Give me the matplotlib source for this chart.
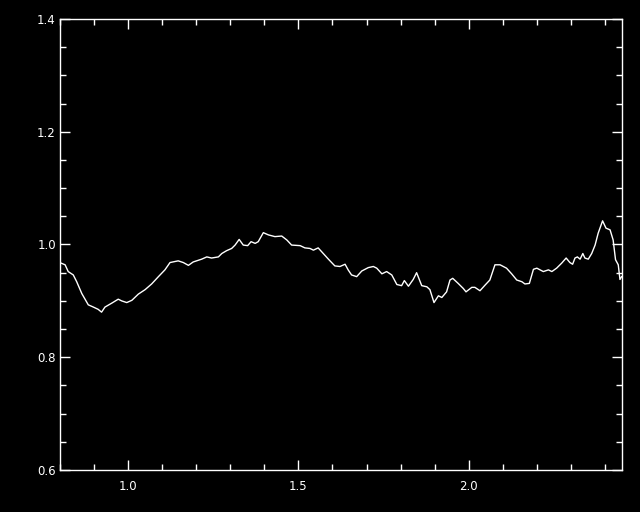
import numpy as np
import matplotlib
matplotlib.use("Agg")
import matplotlib.pyplot as plt
from matplotlib.ticker import MultipleLocator, FormatStrFormatter

# wavelength and normalised flux
wave = [0.803, 0.815, 0.824, 0.839, 0.849, 0.864, 0.883, 0.898, 0.912, 0.922,
        0.932, 0.952, 0.971, 0.981, 0.996, 1.011, 1.030, 1.050, 1.069, 1.089,
        1.108, 1.123, 1.147, 1.162, 1.177, 1.191, 1.216, 1.231, 1.245, 1.265,
        1.275, 1.289, 1.304, 1.314, 1.326, 1.338, 1.351, 1.361, 1.373, 1.382,
        1.397, 1.412, 1.431, 1.451, 1.466, 1.480, 1.505, 1.519, 1.534, 1.544,
        1.558, 1.573, 1.588, 1.607, 1.622, 1.637, 1.646, 1.656, 1.671, 1.686,
        1.705, 1.720, 1.730, 1.745, 1.759, 1.774, 1.789, 1.803, 1.811, 1.823,
        1.837, 1.847, 1.862, 1.877, 1.886, 1.898, 1.911, 1.921, 1.935, 1.945,
        1.953, 1.969, 1.984, 1.992, 2.009, 2.018, 2.033, 2.048, 2.062, 2.077,
        2.092, 2.111, 2.126, 2.141, 2.156, 2.165, 2.178, 2.190, 2.200, 2.219,
        2.234, 2.244, 2.258, 2.273, 2.286, 2.297, 2.305, 2.312, 2.319, 2.327,
        2.335, 2.341, 2.351, 2.361, 2.371, 2.380, 2.393, 2.403, 2.415, 2.424,
        2.431, 2.439, 2.444, 2.449]
flux = [0.967, 0.964, 0.952, 0.946, 0.934, 0.913, 0.893, 0.889, 0.885, 0.880,
        0.889, 0.896, 0.903, 0.900, 0.897, 0.901, 0.912, 0.920, 0.930, 0.943,
        0.955, 0.968, 0.971, 0.968, 0.963, 0.969, 0.974, 0.978, 0.976, 0.978,
        0.984, 0.989, 0.993, 0.999, 1.009, 0.999, 0.998, 1.005, 1.002, 1.005,
        1.021, 1.017, 1.014, 1.015, 1.008, 0.999, 0.998, 0.994, 0.993, 0.990,
        0.994, 0.984, 0.974, 0.962, 0.961, 0.965, 0.955, 0.946, 0.943, 0.953,
        0.959, 0.961, 0.958, 0.948, 0.952, 0.946, 0.929, 0.927, 0.936, 0.926,
        0.938, 0.950, 0.927, 0.925, 0.920, 0.897, 0.909, 0.906, 0.916, 0.937,
        0.940, 0.931, 0.922, 0.916, 0.924, 0.924, 0.918, 0.928, 0.937, 0.964,
        0.964, 0.958, 0.948, 0.937, 0.934, 0.930, 0.931, 0.956, 0.958, 0.952,
        0.955, 0.952, 0.958, 0.967, 0.976, 0.968, 0.965, 0.976, 0.978, 0.974,
        0.984, 0.976, 0.974, 0.984, 0.999, 1.020, 1.042, 1.029, 1.026, 1.008,
        0.973, 0.964, 0.938, 0.943]

fig = plt.figure(figsize=(6.4, 5.12), dpi=100, facecolor="black")
ax = fig.add_axes([60 / 640, 42 / 512, 562 / 640, 451 / 512], facecolor="black")

ax.plot(wave, flux, color="white", linewidth=1.0)

ax.set_xlim(0.8, 2.45)
ax.set_ylim(0.6, 1.4)
ax.xaxis.set_major_locator(MultipleLocator(0.5))
ax.xaxis.set_minor_locator(MultipleLocator(0.1))
ax.yaxis.set_major_locator(MultipleLocator(0.2))
ax.yaxis.set_minor_locator(MultipleLocator(0.05))
ax.xaxis.set_major_formatter(FormatStrFormatter("%.1f"))
ax.yaxis.set_major_formatter(FormatStrFormatter("%.1f"))

for s in ax.spines.values():
    s.set_color("white")
    s.set_linewidth(1.0)
ax.tick_params(which="both", direction="in", top=True, right=True,
               colors="white", labelsize=8.5, width=1.0)
ax.tick_params(which="major", length=7.2)
ax.tick_params(which="minor", length=4.3)
ax.tick_params(axis="x", which="major", pad=7)
ax.tick_params(axis="y", which="major", pad=3)

fig.savefig("out.png", dpi=100, facecolor="black")
